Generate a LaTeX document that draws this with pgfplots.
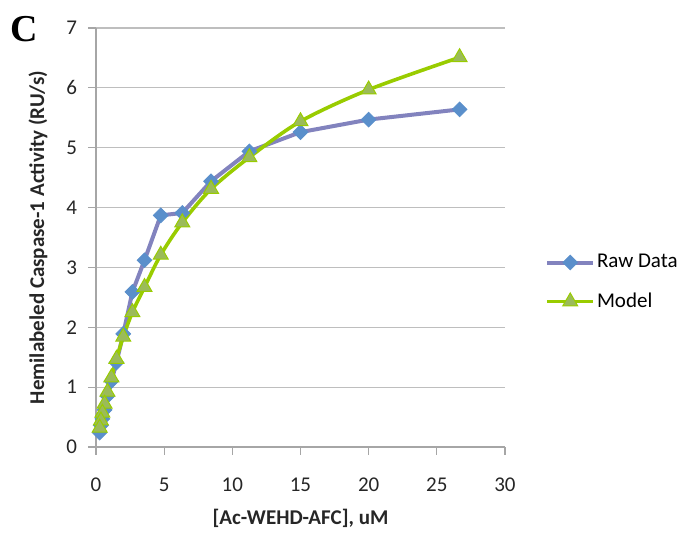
\documentclass[border=0pt]{standalone}
\usepackage{fontspec}
\setmainfont{Carlito}
\newfontfamily\letterfont{Liberation Serif}
\usepackage{pgfplots}
\pgfplotsset{compat=1.18}

\definecolor{rawline}{HTML}{8283BE}
\definecolor{rawmark}{HTML}{5A8FCB}
\definecolor{modelline}{HTML}{99CC00}
\definecolor{modelmark}{HTML}{9BBB59}
\definecolor{gridgray}{HTML}{BEBEBE}
\definecolor{axisgray}{HTML}{A6A6A6}

\begin{document}
\begin{tikzpicture}
\useasboundingbox (0,0) rectangle (338.5pt,266.5pt);
\node[font=\letterfont\bfseries\fontsize{19}{19}\selectfont] at (12pt,252pt) {C};
\begin{axis}[
    at={(48pt,43pt)}, anchor=south west,
    scale only axis,
    width=204.5pt, height=209.5pt,
    xmin=0, xmax=30, ymin=0, ymax=7,
    xtick={0,5,...,30}, ytick={0,1,...,7},
    axis x line=bottom, axis y line=left,
    axis line style={axisgray, line width=0.6pt, -},
    tick align=outside, major tick length=4pt,
    tick style={axisgray, line width=0.6pt},
    ymajorgrids=true,
    grid style={gridgray, line width=0.6pt},
    /pgf/number format/assume math mode=true,
    tick label style={font=\fontsize{10.5}{12}\selectfont, text=black!85},
    xticklabel style={yshift=-8pt},
    yticklabel style={xshift=-2pt},
    xlabel={[Ac-WEHD-AFC], uM},
    ylabel={Hemilabeled Caspase-1 Activity (RU/s)},
    label style={font=\bfseries\fontsize{10.5}{12}\selectfont, text=black!85},
    xlabel style={at={(axis description cs:0.5,-0.1695)}, anchor=center},
    ylabel style={at={(axis description cs:-0.142,0.5)}, anchor=center},
    legend style={at={(axis description cs:1.098,0.393)}, anchor=west,
        draw=none, fill=none, inner sep=0pt, row sep=7pt,
        nodes={inner xsep=1pt},
        font=\fontsize{10.5}{12}\selectfont, cells={anchor=west}},
    legend image code/.code={
        \draw[mark repeat=2, mark phase=2] plot coordinates {(0cm,0cm) (0.4cm,0cm) (0.8cm,0cm)};
    },
    clip=false,
]
\addplot[rawline, line width=2pt, mark=square*, mark size=2.6pt,
    mark options={rotate=45, fill=rawmark, draw=rawmark, line width=0.4pt}]
coordinates {
 (26.67,5.64) (20,5.47) (15,5.26) (11.25,4.94) (8.44,4.44) (6.33,3.91)
 (4.75,3.87) (3.56,3.12) (2.67,2.59) (2.0,1.89) (1.5,1.41) (1.13,1.10)
 (0.84,0.85) (0.63,0.62) (0.47,0.47) (0.36,0.36) (0.27,0.24)
};
\addplot[modelline, line width=1.8pt, smooth, mark=triangle*, mark size=4.3pt,
    mark options={fill=modelmark, draw=modelline, line width=0.5pt}]
coordinates {
 (26.67,6.51) (20,5.97) (15,5.44) (11.25,4.84) (8.44,4.31) (6.33,3.75)
 (4.75,3.21) (3.56,2.67) (2.67,2.25) (2.0,1.84) (1.5,1.47) (1.13,1.16)
 (0.84,0.92) (0.63,0.72) (0.47,0.57) (0.36,0.44) (0.27,0.32)
};
\legend{Raw Data, Model}
\end{axis}
\end{tikzpicture}
\end{document}
